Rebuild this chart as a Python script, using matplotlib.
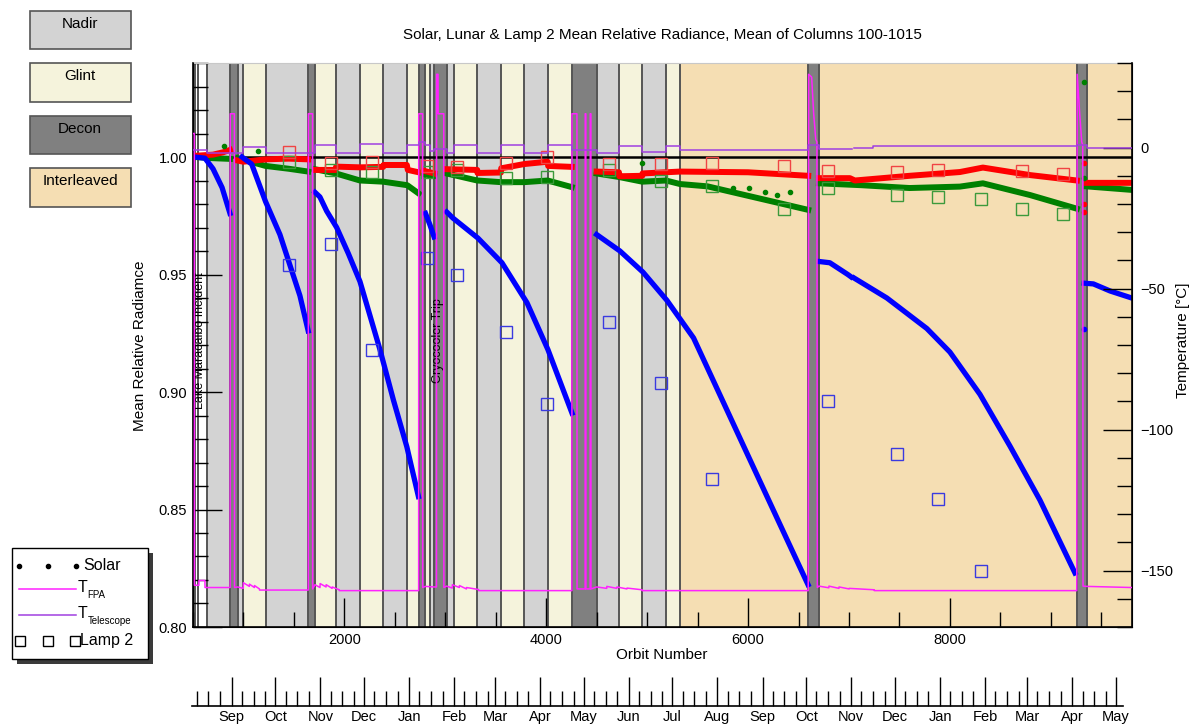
import datetime as dt

import matplotlib
matplotlib.use('Agg')
import matplotlib.pyplot as plt
import matplotlib.dates as mdates
from matplotlib.patches import Rectangle
from matplotlib.lines import Line2D
from matplotlib.ticker import MultipleLocator, FormatStrFormatter
import numpy as np

plt.rcParams['font.family'] = ['Liberation Sans', 'DejaVu Sans']

nan = np.nan

# ---- observation mode bands (orbit start, orbit end, mode) ----
band_start = [500, 520, 640, 868, 944, 994, 1221, 1643, 1710, 1918, 2156, 2386, 2624, 2737, 2802,
              2849, 2892, 3014, 3090, 3317, 3552, 3783, 4015, 4253, 4500, 4721, 4952, 5187,
              5325, 6596, 6702, 9255, 9354]
band_end = [520, 640, 868, 944, 994, 1221, 1643, 1710, 1918, 2156, 2386, 2624, 2737, 2802, 2849,
            2892, 3014, 3090, 3317, 3552, 3783, 4015, 4253, 4500, 4721, 4952, 5187, 5325,
            6596, 6702, 9255, 9354, 9800]
band_mode = ['Decon', 'none', 'Nadir', 'Decon', 'Nadir', 'Glint', 'Nadir', 'Decon', 'Glint',
             'Nadir', 'Glint', 'Nadir', 'Glint', 'Decon', 'Glint', 'Nadir', 'Decon', 'Nadir',
             'Glint', 'Nadir', 'Glint', 'Nadir', 'Glint', 'Decon', 'Nadir', 'Glint', 'Nadir',
             'Glint', 'Interleaved', 'Decon', 'Interleaved', 'Decon', 'Interleaved']
mode_colors = {'Nadir': '#d3d3d3', 'Glint': '#f5f3dc', 'Decon': '#808080',
               'Interleaved': '#f5deb3', 'none': '#ffffff'}

# ---- solar mean relative radiance (three bands), NaN separates decon gaps ----
blue_orbit = [520, 620, 700, 790, 868, nan,
              987, 1083, 1221, 1363, 1462, 1561, 1643, nan,
              1710, 1759, 1826, 1925, 2040, 2156, 2354, 2487, 2620, 2735, nan,
              2805, 2850, 2890, nan,
              3015, 3077, 3324, 3562, 3810, 4018, 4256, nan,
              4500, 4731, 4959, 5196, 5460, 5999, 6296, 6594, nan,
              6710, 6810, 6988, 7020, nan,
              7050, 7375, 7771, 7999, 8297, 8594, 8891, 9238, nan,
              9330, 9420, 9585, 9800]
blue_val = [1.0, 0.9995, 0.995, 0.987, 0.976, nan,
            1.0, 0.997, 0.981, 0.967, 0.954, 0.941, 0.926, nan,
            0.985, 0.983, 0.977, 0.970, 0.959, 0.947, 0.918, 0.8966, 0.8767, 0.8555, nan,
            0.976, 0.971, 0.966, nan,
            0.9766, 0.974, 0.9655, 0.955, 0.938, 0.918, 0.891, nan,
            0.967, 0.960, 0.951, 0.939, 0.923, 0.873, 0.8455, 0.818, nan,
            0.9555, 0.955, 0.950, 0.949, nan,
            0.9485, 0.940, 0.927, 0.917, 0.899, 0.877, 0.854, 0.823, nan,
            0.9463, 0.946, 0.943, 0.940]

red_orbit = [520, 700, 800, 868, nan,
             944, 1000, 1221, 1450, 1643, nan,
             1710, 1915, 1920, 2156, 2386, 2390, 2620, 2630, 2737, nan,
             2802, 2892, nan,
             3014, 3317, 3320, 3552, 3555, 3783, 4015, 4020, 4253, nan,
             4500, 4721, 4725, 4952, 4955, 5325, 6000, 6596, nan,
             6702, 7008, 7058, 7600, 8098, 8326, 8794, 9257, nan,
             9354, 9800]
red_val = [1.0005, 1.001, 1.002, 1.003, nan,
           0.9985, 0.998, 0.999, 0.9993, 0.999, nan,
           0.9945, 0.9945, 0.9959, 0.9956, 0.9958, 0.9966, 0.9966, 0.9945, 0.9935, nan,
           0.994, 0.993, nan,
           0.9948, 0.9945, 0.9932, 0.9934, 0.9952, 0.997, 0.998, 0.9962, 0.9958, nan,
           0.9938, 0.9935, 0.9918, 0.992, 0.993, 0.9938, 0.9935, 0.992, nan,
           0.991, 0.991, 0.990, 0.992, 0.9936, 0.9955, 0.9923, 0.990, nan,
           0.989, 0.989]

green_orbit = [520, 700, 868, nan,
               944, 1221, 1450, 1643, nan,
               1710, 1918, 2156, 2386, 2624, 2737, nan,
               2802, 2892, nan,
               3014, 3317, 3552, 3783, 4015, 4253, nan,
               4500, 4721, 4952, 5187, 5325, 5600, 6596, nan,
               6702, 7123, 7599, 8098, 8326, 8794, 9257, nan,
               9354, 9800]
green_val = [1.0, 0.9995, 0.9992, nan,
             0.9995, 0.9962, 0.995, 0.9938, nan,
             0.9948, 0.993, 0.990, 0.9895, 0.988, 0.9845, nan,
             0.9925, 0.992, nan,
             0.993, 0.990, 0.9893, 0.9893, 0.990, 0.9872, nan,
             0.993, 0.9915, 0.9895, 0.990, 0.9885, 0.9875, 0.9775, nan,
             0.9888, 0.988, 0.9868, 0.9874, 0.9888, 0.9838, 0.978, nan,
             0.9875, 0.986]

# stray single solar points
green_dot_orbit = [810, 1147, 4950, 5852, 6010, 6168, 6287, 6416, 9325, 9325]
green_dot_val = [1.0047, 1.0026, 0.9975, 0.987, 0.9868, 0.985, 0.984, 0.985, 1.032, 0.991]
red_dot_orbit = [9325, 9325, 9325]
red_dot_val = [0.9975, 0.980, 0.9766]
blue_dot_orbit = [9325]
blue_dot_val = [0.927]

# ---- Lamp 2 ----
lamp_orbit = [1452, 1868, 2274, 2819, 3116, 3601, 4007, 4621, 5136, 5641, 6354, 6790, 7474,
              7880, 8306, 8712, 9118]
lamp_red = [1.0023, 0.9973, 0.998, 0.9962, 0.9956, 0.9973, 1.0001, 0.997, 0.997, 0.9974,
            0.996, 0.994, 0.9936, 0.9945, nan, 0.994, 0.9928]
lamp_green = [0.998, 0.9945, 0.9938, 0.9938, 0.9945, 0.991, 0.9916, 0.9945, 0.990, 0.9877,
              0.978, 0.987, 0.984, 0.983, 0.982, 0.978, 0.9757]
lamp_blue = [0.954, 0.963, 0.918, 0.957, 0.950, 0.9255, 0.895, 0.930, 0.9038, 0.863, nan,
             0.896, 0.8736, 0.8545, 0.824, nan, nan]

# ---- temperatures [deg C] ----
fpa_orbit = [500, 515, 516, 560, 561, 620, 621, 870, 871, 912, 913, 944,
             1000, 1001, 1060, 1061, 1110, 1111, 1160, 1161, 1644, 1645, 1686, 1687, 1710,
             1760, 1761, 1820, 1821, 1880, 1881, 1950, 1951, 2737, 2738, 2776, 2777, 2802,
             2891, 2914, 2915, 2929, 2930, 2986, 2987, 3014,
             3070, 3071, 3140, 3141, 3210, 3211, 3330, 3331, 4255, 4256, 4305, 4306, 4386,
             4387, 4393, 4394, 4436, 4437, 4443, 4444, 4500,
             4600, 4601, 4700, 4701, 4800, 4801, 4950, 4951, 6596, 6600, 6630, 6650, 6670,
             6682, 6686, 6702,
             6800, 6801, 6900, 6901, 7000, 7001, 7250, 7251, 9256, 9260, 9285, 9305, 9315,
             9318, 9354, 9800]
fpa_temp = [5, 5, -155.2, -155.2, -153.5, -153.5, -156.0, -156.0, 12, 12, -156.0, -155.8,
            -156.3, -154.3, -155.6, -154.8, -156.0, -155.3, -156.5, -156.9, -156.9, 12, 12, -156.5, -155.0,
            -156.0, -154.6, -155.8, -155.0, -156.3, -155.8, -156.8, -157.1, -157.1, 12, 12, -156.0, -155.6,
            -155.8, -155.8, 26, 26, 12, 12, -156.0, -155.5,
            -156.2, -155.0, -156.0, -155.3, -156.5, -156.0, -156.7, -157.1, -157.1, 12, 12, -156.5, -156.5,
            12, 12, -156.5, -156.5, 12, 12, -156.5, -155.8,
            -156.3, -155.6, -156.3, -155.8, -156.5, -156.2, -156.8, -157.1, -157.1, 26, 25, 12, 3,
            2, -156.0, -155.5,
            -156.1, -155.5, -156.3, -155.8, -156.5, -156.3, -156.8, -157.1, -157.1, 26, 12, 2, 1,
            -155.5, -155.6, -156.0]

tel_orbit = [500, 640, 994, 1221, 1710, 1918, 2156, 2386, 2624, 2737, 2802, 2849, 2892, 3014,
             3090, 3317, 3552, 3783, 4015, 4253, 4500, 4721, 4952, 5187, 5325, 6596, 6702,
             7025, 7050, 7240, 9255, 9354, 9800]
tel_temp = [-1.0, -1.9, 0.1, -2.0, 0.9, -2.0, 1.2, -1.8, 0.9, 2.0, 0.8, -1.2, -0.5, -2.0,
            0.9, -2.0, 0.9, -1.9, 0.9, -1.0, -2.0, 0.6, -1.7, 0.6, -0.85, 1.0, -0.6,
            nan, -0.3, 0.7, 1.0, 0.0, 0.0]

# ---- calendar axis range ----
date_first = dt.datetime(2014, 8, 4, 17)
date_last = dt.datetime(2016, 5, 5, 19)

title = 'Solar, Lunar & Lamp 2 Mean Relative Radiance, Mean of Columns 100-1015'

W, H = 1194, 725
fig = plt.figure(figsize=(W / 100, H / 100), dpi=100)


def fx(x):
    return x / W


def fy(y):
    return 1 - y / H


ax = fig.add_axes([fx(192.8), fy(627), fx(1131.7) - fx(192.8), fy(63) - fy(627)])

# background bands
for o0, o1, m in zip(band_start, band_end, band_mode):
    if m != 'none':
        ax.axvspan(o0, o1, color=mode_colors[m], lw=0, zorder=0)
for o in sorted(set(band_start[1:])) + [550]:
    ax.axvline(o, color='#555555', lw=1.4, zorder=0.5)

ax.axhline(1.0, color='black', lw=1.8, zorder=3)

ax.plot(green_orbit, green_val, color='#008000', lw=4.3, zorder=4)
ax.plot(red_orbit, red_val, color='#ff0000', lw=4.3, zorder=4)
ax.plot(blue_orbit, blue_val, color='#0000ff', lw=3.8, zorder=4)
ax.plot(green_dot_orbit, green_dot_val, 'o', color='#008000', ms=3, zorder=4)
ax.plot(red_dot_orbit, red_dot_val, 'o', color='#ff0000', ms=3, zorder=4)
ax.plot(blue_dot_orbit, blue_dot_val, 'o', color='#0000ff', ms=3, zorder=4)

ax.plot(lamp_orbit, lamp_green, 's', mfc='none', mec='#3c9a3c', ms=9, mew=1.0, zorder=5)
ax.plot(lamp_orbit, lamp_red, 's', mfc='none', mec='#f04444', ms=9, mew=1.0, zorder=5)
ax.plot(lamp_orbit, lamp_blue, 's', mfc='none', mec='#3a3ae0', ms=9, mew=1.0, zorder=5)

ax.text(571, 0.922, 'Lake Maracaibo Incident', rotation=90, ha='center', va='center',
        fontsize=9, zorder=6)
ax.text(2928, 0.922, 'Cryocooler Trip', rotation=90, ha='center', va='center',
        fontsize=9, zorder=6)

ax.set_xlim(500, 9800)
ax.set_ylim(0.80, 1.04)
ax.xaxis.set_major_locator(MultipleLocator(2000))
ax.xaxis.set_minor_locator(MultipleLocator(500))
ax.set_yticks([0.80, 0.85, 0.90, 0.95, 1.00])
ax.yaxis.set_major_formatter(FormatStrFormatter('%.2f'))
ax.yaxis.set_minor_locator(MultipleLocator(0.01))
ax.tick_params(which='major', direction='in', length=21, width=1.0, labelsize=10.5, pad=4)
ax.tick_params(which='minor', direction='in', length=11, width=1.0)
ax.tick_params(top=False, right=False, which='both')
ax.spines['top'].set_color('#c8c8c8')
for s in ['left', 'bottom']:
    ax.spines[s].set_linewidth(1.2)

# temperatures on the right axis
ax2 = ax.twinx()
ax2.plot(fpa_orbit, fpa_temp, color='#ff22ff', lw=1.1, zorder=5)
ax2.plot(tel_orbit, tel_temp, color='#a040e0', lw=1.1, drawstyle='steps-post', zorder=5)
ax2.set_ylim(-170, 30)
ax2.set_yticks([-150, -100, -50, 0])
ax2.yaxis.set_minor_locator(MultipleLocator(10))
ax2.tick_params(which='major', direction='in', length=21, width=1.0, labelsize=10.5, pad=6)
ax2.tick_params(which='minor', direction='in', length=11, width=1.0)
ax2.spines['top'].set_visible(False)
ax2.spines['right'].set_linewidth(1.2)

fig.text(fx(662), fy(35), title, ha='center', va='center', fontsize=11)
fig.text(fx(662), fy(655), 'Orbit Number', ha='center', va='center', fontsize=11)
fig.text(fx(140), fy(346), 'Mean Relative Radiamce', rotation=90, ha='center', va='center',
         fontsize=11)
fig.text(fx(1183), fy(340), 'Temperature [°C]', rotation=90, ha='center', va='center',
         fontsize=11)

# calendar axis
axm = fig.add_axes([fx(192), fy(706), fx(1123) - fx(192), 0.0001])
axm.set_xlim(mdates.date2num(date_first), mdates.date2num(date_last))
axm.xaxis.set_major_locator(mdates.MonthLocator())
axm.xaxis.set_major_formatter(mdates.DateFormatter('%b'))
axm.xaxis.set_minor_locator(mdates.DayLocator(bymonthday=[8, 16, 24]))
axm.set_yticks([])
axm.patch.set_visible(False)
for s in ['left', 'right', 'top']:
    axm.spines[s].set_visible(False)
axm.spines['bottom'].set_linewidth(1.2)
axm.tick_params(which='major', direction='in', length=21, width=1.0, labelsize=10.5, pad=3)
axm.tick_params(which='minor', direction='in', length=11, width=1.0)

# mode legend boxes
for name, top in [('Nadir', 11), ('Glint', 63.3), ('Decon', 116), ('Interleaved', 168.3)]:
    fig.add_artist(Rectangle((fx(29.5), fy(top + 38.3)), fx(101), 38.3 / H,
                             transform=fig.transFigure, facecolor=mode_colors[name],
                             edgecolor='#555555', lw=1.2))
    fig.text(fx(80), fy(top + 13), name, ha='center', va='center', fontsize=11)

# series legend
fig.add_artist(Rectangle((fx(17), fy(664)), fx(136), 111 / H, transform=fig.transFigure,
                         facecolor='#3a3a3a', edgecolor='none'))
fig.add_artist(Rectangle((fx(12), fy(659)), fx(136), 111 / H, transform=fig.transFigure,
                         facecolor='white', edgecolor='black', lw=1.0))
fig.add_artist(Line2D([fx(19.3), fx(47.7), fx(76)], [fy(566)] * 3, ls='none', marker='o',
                      ms=3, color='black', transform=fig.transFigure))
fig.text(fx(83), fy(566), 'Solar', ha='left', va='center', fontsize=11.5)
fig.add_artist(Line2D([fx(19), fx(76)], [fy(589)] * 2, color='#ff22ff', lw=1.1,
                      transform=fig.transFigure))
fig.text(fx(77.5), fy(588), 'T', ha='left', va='center', fontsize=11.5)
fig.text(fx(87.5), fy(595), 'FPA', ha='left', va='center', fontsize=7)
fig.add_artist(Line2D([fx(19), fx(76)], [fy(615)] * 2, color='#a040e0', lw=1.1,
                      transform=fig.transFigure))
fig.text(fx(77.5), fy(614), 'T', ha='left', va='center', fontsize=11.5)
fig.text(fx(88), fy(621), 'Telescope', ha='left', va='center', fontsize=7)
fig.add_artist(Line2D([fx(19.8), fx(47.9), fx(75.2)], [fy(641)] * 3, ls='none', marker='s',
                      ms=6.5, mfc='none', mec='black', mew=1.0, transform=fig.transFigure))
fig.text(fx(80.5), fy(641), 'Lamp 2', ha='left', va='center', fontsize=11.5)

fig.savefig('out.png', dpi=100)
